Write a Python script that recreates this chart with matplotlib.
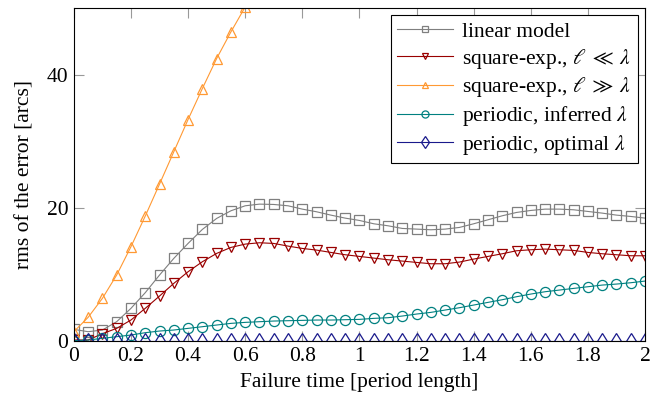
import matplotlib
matplotlib.use("Agg")
import matplotlib.pyplot as plt
import numpy as np

plt.rcParams['font.family'] = ['Liberation Serif', 'DejaVu Serif']
plt.rcParams['mathtext.fontset'] = 'stix'

# failure time in period lengths, steps of 0.05
t = np.arange(41) * 0.05

linear = [1.75, 1.4, 1.65, 2.9, 4.9, 7.25, 9.9, 12.4, 14.65, 16.75, 18.4,
          19.55, 20.3, 20.55, 20.5, 20.3, 19.8, 19.4, 18.9, 18.45, 18.1,
          17.6, 17.3, 16.9, 16.8, 16.7, 16.8, 17.05, 17.6, 18.2, 18.8,
          19.3, 19.6, 19.8, 19.8, 19.7, 19.45, 19.2, 18.9, 18.7, 18.45]
sqexp_short = [0.15, 0.15, 1.1, 1.9, 3.15, 4.9, 6.75, 8.65, 10.4, 11.9, 13.15,
               14.05, 14.55, 14.75, 14.65, 14.25, 13.9, 13.65, 13.3, 12.95, 12.7,
               12.45, 12.2, 12.0, 11.8, 11.6, 11.6, 11.85, 12.3, 12.7, 13.1,
               13.55, 13.7, 13.8, 13.7, 13.6, 13.3, 13.1, 12.95, 12.8, 12.8]
sqexp_long = [1.4, 3.55, 6.4, 9.9, 14.15, 18.75, 23.55, 28.4, 33.25, 37.9, 42.4,
              46.4, 50.15]
per_inferred = [0.05, 0.15, 0.4, 0.65, 0.9, 1.25, 1.5, 1.65, 1.9, 2.15, 2.4,
                2.65, 2.8, 2.9, 3.0, 3.05, 3.1, 3.15, 3.15, 3.2, 3.25,
                3.4, 3.5, 3.75, 4.05, 4.3, 4.65, 5.0, 5.4, 5.8, 6.2,
                6.65, 7.05, 7.4, 7.65, 7.9, 8.15, 8.4, 8.55, 8.75, 9.0]
per_optimal = [0.0] * 41

fig = plt.figure(figsize=(6.65, 3.97), dpi=100)
ax = fig.add_axes([0.111, 0.141, 0.859, 0.839])

kw = dict(lw=0.8, mfc='none', mew=0.9)
ax.plot(t, linear, color='#7f7f7f', marker='s', ms=6.5, label='linear model', **kw)
ax.plot(t, sqexp_short, color='#990000', marker='v', ms=6.5,
        label=r'square-exp., $\ell\;\ll\;\lambda$', **kw)
ax.plot(t[:len(sqexp_long)], sqexp_long, color='#ff9933', marker='^', ms=6.5,
        label=r'square-exp., $\ell\;\gg\;\lambda$', **kw)
ax.plot(t, per_inferred, color='#008080', marker='o', ms=7.3,
        label=r'periodic, inferred $\lambda$', **kw)
ax.plot(t, per_optimal, color='#1a1a8c', marker='d', ms=8.5,
        label=r'periodic, optimal $\lambda$', **kw)

ax.set_xlim(0, 2)
ax.set_ylim(0, 50)
ax.set_xticks(np.arange(0, 2.01, 0.2))
ax.set_xticklabels(['0', '0.2', '0.4', '0.6', '0.8', '1', '1.2', '1.4', '1.6', '1.8', '2'])
ax.set_yticks([0, 20, 40])
ax.tick_params(direction='in', top=True, right=True, length=7, width=0.8,
               color='#999999', labelsize=15.5, pad=4)
for s in ax.spines.values():
    s.set_linewidth(0.8)

ax.set_xlabel('Failure time [period length]', fontsize=15.5, labelpad=5)
ax.set_ylabel('rms of the error [arcs]', fontsize=15.5, labelpad=9)

leg = ax.legend(loc='upper right', fontsize=15.5, fancybox=False, framealpha=1,
                edgecolor='black', handlelength=2.6, handletextpad=0.4,
                borderpad=0.3, labelspacing=0.22, borderaxespad=0.35,
                markerscale=0.7)
leg.get_frame().set_linewidth(0.8)

fig.savefig('out.png', dpi=100)
